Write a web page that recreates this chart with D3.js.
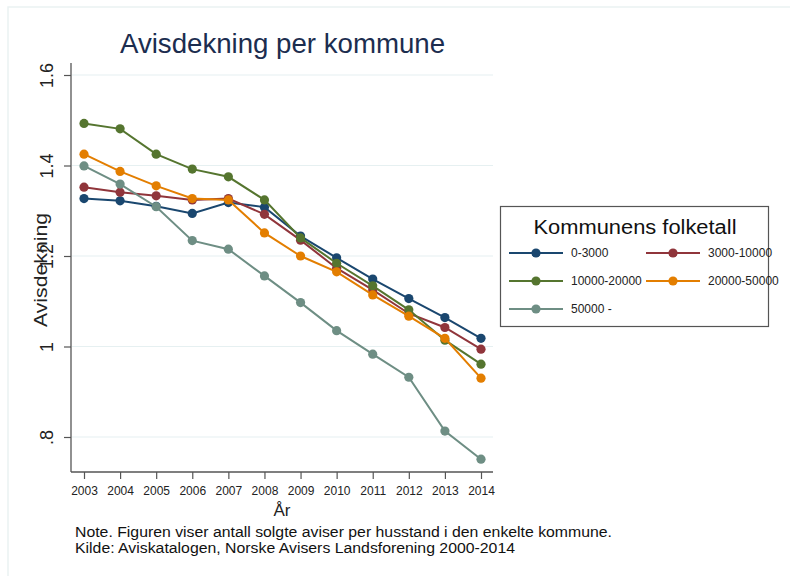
<!DOCTYPE html>
<html>
<head>
<meta charset="utf-8">
<script src="https://cdn.jsdelivr.net/npm/d3@7"></script>
<style>
  body { margin: 0; background: #fff; }
  text { font-family: "Liberation Sans", Arial, sans-serif; }
</style>
</head>
<body>
<div id="graph1"></div>
<script>
// data
var years = [2003, 2004, 2005, 2006, 2007, 2008, 2009, 2010, 2011, 2012, 2013, 2014];
var groups = ["0-3000", "3000-10000", "10000-20000", "20000-50000", "50000 -"];
var s0_3000 = [1.327, 1.322, 1.310, 1.294, 1.318, 1.308, 1.244, 1.196, 1.149, 1.106, 1.064, 1.018];
var s3000_10000 = [1.352, 1.341, 1.333, 1.324, 1.327, 1.292, 1.235, 1.173, 1.125, 1.073, 1.042, 0.994];
var s10000_20000 = [1.493, 1.481, 1.425, 1.392, 1.375, 1.324, 1.240, 1.184, 1.134, 1.081, 1.014, 0.961];
var s20000_50000 = [1.425, 1.387, 1.355, 1.327, 1.324, 1.251, 1.200, 1.165, 1.114, 1.067, 1.018, 0.930];
var s50000 = [1.399, 1.359, 1.309, 1.234, 1.215, 1.156, 1.097, 1.035, 0.983, 0.932, 0.813, 0.751];
var yTicks = [0.8, 1, 1.2, 1.4, 1.6];
var yTickLabels = [".8", "1", "1.2", "1.4", "1.6"];

var seriesList = [s0_3000, s3000_10000, s10000_20000, s20000_50000, s50000];
var colors = ["#1a476f", "#90353b", "#55752f", "#e37e00", "#6e8e84"];

var W = 790, H = 576;
var svg = d3.select("#graph1").append("svg")
    .attr("width", W)
    .attr("height", H);

// faint outer frame
svg.append("rect")
    .attr("x", 8).attr("y", 7)
    .attr("width", W).attr("height", H)
    .attr("fill", "none")
    .attr("stroke", "#eaf2f2")
    .attr("stroke-width", 1.5);

var plot = {left: 71, right: 493, top: 63, bottom: 472};

var x = d3.scaleLinear().domain([2003, 2014]).range([84, 481]);
var y = d3.scaleLinear().domain([0.8, 1.6]).range([437, 75]);

// title
svg.append("text")
    .attr("x", 282.5).attr("y", 53)
    .attr("text-anchor", "middle")
    .attr("font-size", 27)
    .attr("fill", "#1c2d4f")
    .attr("textLength", 325)
    .attr("lengthAdjust", "spacingAndGlyphs")
    .text("Avisdekning per kommune");

// gridlines
svg.append("g").selectAll("line")
    .data(yTicks)
    .enter().append("line")
    .attr("x1", plot.left + 1).attr("x2", plot.right)
    .attr("y1", function (d) { return y(d); })
    .attr("y2", function (d) { return y(d); })
    .attr("stroke", "#e6f0f1")
    .attr("stroke-width", 1.2);

// Y axis
var yAxis = svg.append("g")
    .attr("transform", "translate(" + plot.left + ",0)")
    .call(d3.axisLeft(y).tickValues(yTicks).tickSize(7)
        .tickFormat(function (d, i) { return yTickLabels[i]; }));
yAxis.select(".domain").remove();
yAxis.selectAll(".tick line").attr("stroke", "#555").attr("stroke-width", 1.2);
yAxis.selectAll(".tick text")
    .attr("font-size", 18)
    .attr("fill", "#222")
    .attr("font-family", "Liberation Sans, Arial, sans-serif")
    .attr("text-anchor", "middle")
    .attr("transform", "rotate(-90)")
    .attr("x", 0)
    .attr("y", -18)
    .attr("dy", 0);
svg.append("line")
    .attr("x1", plot.left).attr("x2", plot.left)
    .attr("y1", plot.top).attr("y2", plot.bottom)
    .attr("stroke", "#555").attr("stroke-width", 1.3);

// X axis
var xAxis = svg.append("g")
    .attr("transform", "translate(0," + plot.bottom + ")")
    .call(d3.axisBottom(x).tickValues(years).tickSize(7).tickFormat(d3.format("d")));
xAxis.select(".domain").remove();
xAxis.selectAll(".tick line").attr("stroke", "#555").attr("stroke-width", 1.2);
xAxis.selectAll(".tick text")
    .attr("font-size", 12)
    .attr("fill", "#222")
    .attr("font-family", "Liberation Sans, Arial, sans-serif")
    .attr("y", 14);
svg.append("line")
    .attr("x1", plot.left).attr("x2", plot.right)
    .attr("y1", plot.bottom).attr("y2", plot.bottom)
    .attr("stroke", "#555").attr("stroke-width", 1.3);

// axis titles
svg.append("text")
    .attr("transform", "translate(46.5,270) rotate(-90)")
    .attr("text-anchor", "middle")
    .attr("font-size", 18)
    .attr("fill", "#222")
    .attr("textLength", 114)
    .attr("lengthAdjust", "spacingAndGlyphs")
    .text("Avisdekning");
svg.append("text")
    .attr("x", 282).attr("y", 516)
    .attr("text-anchor", "middle")
    .attr("font-size", 17)
    .attr("fill", "#222")
    .text("År");

// lines and markers
var line = d3.line()
    .x(function (d, i) { return x(years[i]); })
    .y(function (d) { return y(d); });

seriesList.forEach(function (s, k) {
    svg.append("path")
        .datum(s)
        .attr("d", line)
        .attr("fill", "none")
        .attr("stroke", colors[k])
        .attr("stroke-width", 2);
    svg.append("g").selectAll("circle")
        .data(s)
        .enter().append("circle")
        .attr("r", 4.6)
        .attr("cx", function (d, i) { return x(years[i]); })
        .attr("cy", function (d) { return y(d); })
        .attr("fill", colors[k]);
});

// legend
var lg = svg.append("g");
lg.append("rect")
    .attr("x", 500.5).attr("y", 206.5)
    .attr("width", 268).attr("height", 120)
    .attr("fill", "#fff")
    .attr("stroke", "#555")
    .attr("stroke-width", 1.2);
lg.append("text")
    .attr("x", 635).attr("y", 234)
    .attr("text-anchor", "middle")
    .attr("font-size", 20)
    .attr("fill", "#111")
    .attr("textLength", 203)
    .attr("lengthAdjust", "spacingAndGlyphs")
    .text("Kommunens folketall");

var legPos = [[509, 253], [646, 253], [509, 281], [646, 281], [509, 309]];
groups.forEach(function (g, k) {
    var px = legPos[k][0], py = legPos[k][1];
    lg.append("line")
        .attr("x1", px).attr("x2", px + 54)
        .attr("y1", py).attr("y2", py)
        .attr("stroke", colors[k]).attr("stroke-width", 2);
    lg.append("circle")
        .attr("cx", px + 27).attr("cy", py).attr("r", 4.6)
        .attr("fill", colors[k]);
    lg.append("text")
        .attr("x", px + 62).attr("y", py + 4)
        .attr("font-size", 12)
        .attr("fill", "#222")
        .text(g);
});

// note
svg.append("text")
    .attr("x", 75).attr("y", 537)
    .attr("font-size", 14)
    .attr("fill", "#111")
    .attr("textLength", 537)
    .attr("lengthAdjust", "spacingAndGlyphs")
    .text("Note. Figuren viser antall solgte aviser per husstand i den enkelte kommune.");
svg.append("text")
    .attr("x", 75).attr("y", 553)
    .attr("font-size", 14)
    .attr("fill", "#111")
    .attr("textLength", 440)
    .attr("lengthAdjust", "spacingAndGlyphs")
    .text("Kilde: Aviskatalogen, Norske Avisers Landsforening 2000-2014");
</script>
</body>
</html>
